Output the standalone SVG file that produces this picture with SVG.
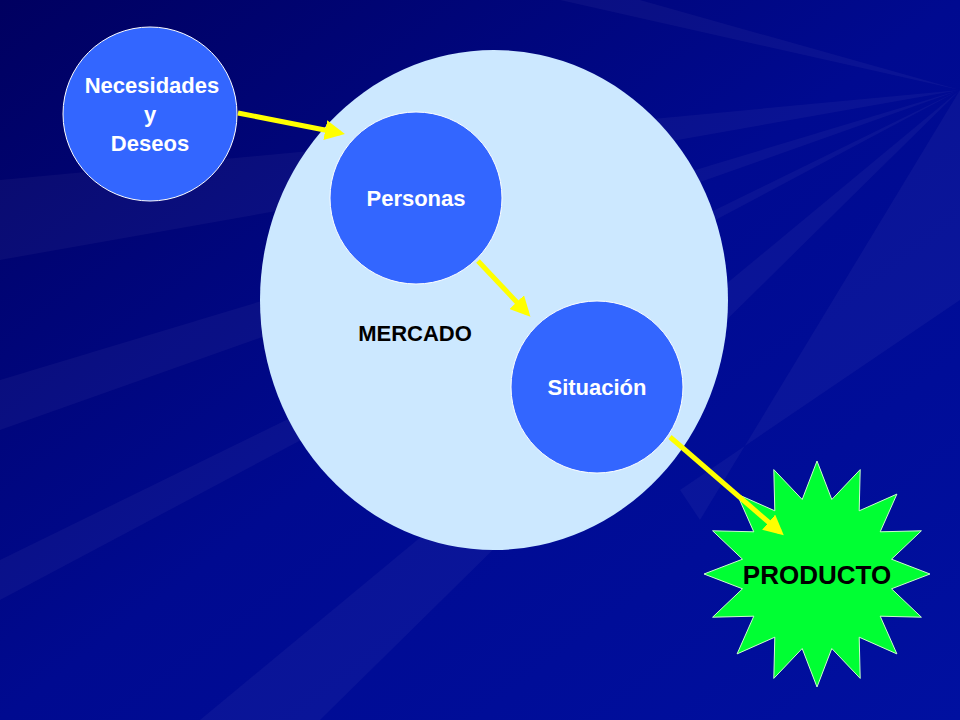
<svg xmlns="http://www.w3.org/2000/svg" width="960" height="720" viewBox="0 0 960 720">
<defs>
<linearGradient id="bg" x1="0" y1="0" x2="1" y2="1">
<stop offset="0" stop-color="#000060"/><stop offset="0.5" stop-color="#000a90"/><stop offset="1" stop-color="#0010a0"/>
</linearGradient>
<marker id="ah" markerWidth="4" markerHeight="4" refX="3" refY="2" orient="auto" markerUnits="strokeWidth"><path d="M0,0 L4,2 L0,4 Z" fill="#ffff00"/></marker>
<style>
.c{fill:#3366ff;stroke:#ffffff;stroke-width:1}
.t{font-family:"Liberation Sans",Arial,sans-serif;font-weight:bold;font-size:22px;text-anchor:middle}
.w{fill:#ffffff}
.a{stroke:#ffff00;stroke-width:5;fill:none;marker-end:url(#ah)}
.r{fill:#ffffff;opacity:0.04}
</style>
</defs>
<rect width="960" height="720" fill="url(#bg)"/>
<g id="rays">
<polygon class="r" points="960,90 0,180 0,260"/>
<polygon class="r" points="960,90 0,380 0,430"/>
<polygon class="r" points="960,90 200,720 320,720"/>
<polygon class="r" points="960,90 560,0 640,0"/>
<polygon class="r" points="960,90 960,300 680,490 700,520"/>
<polygon class="r" points="960,90 0,560 0,600"/>
</g>
<g id="mercado"><ellipse cx="494" cy="300" rx="234" ry="250" fill="#cce8ff"/><text class="t" x="415" y="341">MERCADO</text></g>
<g id="necesidades"><circle class="c" cx="150" cy="114" r="87"/><text class="t w" x="152" y="93">Necesidades</text><text class="t w" x="150" y="122">y</text><text class="t w" x="150" y="151">Deseos</text></g>
<g id="personas"><circle class="c" cx="416" cy="198" r="86"/><text class="t w" x="416" y="206">Personas</text></g>
<g id="situacion"><circle class="c" cx="597" cy="387" r="86"/><text class="t w" x="597" y="395">Situación</text></g>
<g id="producto"><polygon fill="#00ff33" stroke="#ccffcc" stroke-width="1" points="817,461 831.8,499.5 860.2,469.6 859.2,510.8 896.9,494.1 880.2,531.8 921.4,530.8 891.5,559.2 930,574 891.5,588.8 921.4,617.2 880.2,616.2 896.9,653.9 859.2,637.2 860.2,678.4 831.8,648.5 817,687 802.2,648.5 773.8,678.4 774.8,637.2 737.1,653.9 753.8,616.2 712.6,617.2 742.5,588.8 704,574 742.5,559.2 712.6,530.8 753.8,531.8 737.1,494.1 774.8,510.8 773.8,469.6 802.2,499.5"/><text class="t" x="817" y="584" style="font-size:26px">PRODUCTO</text></g>
<g id="connectors">
<line class="a" x1="238" y1="113" x2="340" y2="133"/>
<line class="a" x1="478" y1="261" x2="527" y2="313"/>
<line class="a" x1="670" y1="437" x2="780" y2="532"/>
</g>
</svg>
